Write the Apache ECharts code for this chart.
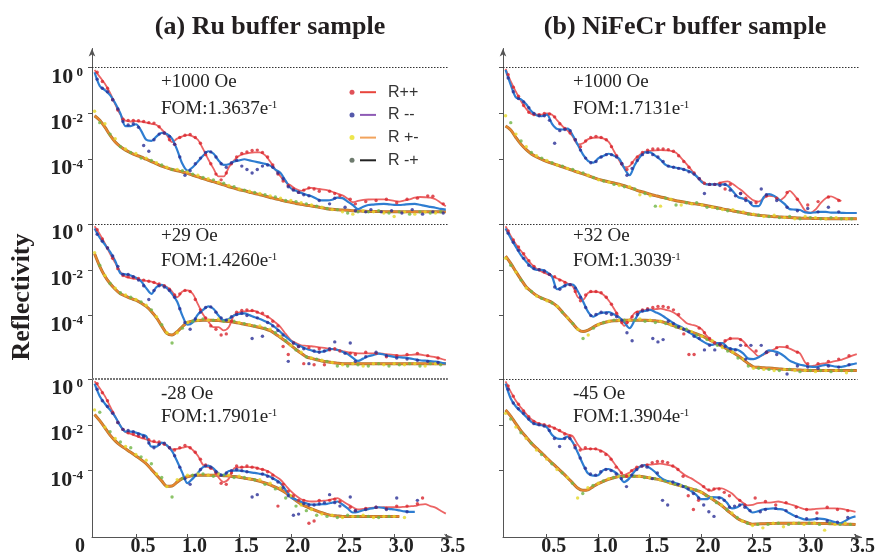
<!DOCTYPE html>
<html><head><meta charset="utf-8">
<script src="https://cdn.jsdelivr.net/npm/echarts@6.0.0/dist/echarts.min.js"></script>
<style>html,body{margin:0;padding:0;background:#fff}#c{width:878px;height:558px}</style>
</head><body><div id="c"></div>
<script>
// ---------- sampling positions (Q) ----------
const Q_FIT = [
0.10,0.15,0.20,0.25,0.30,0.35,0.40,0.45,0.50,0.55,
0.60,0.65,0.70,0.75,0.80,0.85,0.90,0.95,1.00,1.05,
1.10,1.15,1.20,1.25,1.30,1.35,1.40,1.45,1.50,1.55,
1.60,1.65,1.70,1.75,1.80,1.85,1.90,1.95,2.00,2.05,
2.10,2.15,2.20,2.25,2.30,2.35,2.40,2.45,2.50,2.55,
2.60,2.65,2.70,2.75,2.80,2.85,2.90,2.95,3.00,3.05,
3.10,3.15,3.20,3.25,3.30,3.35,3.40,3.45,3.50];
const Q_PTS = [
0.125,0.175,0.225,0.275,0.325,0.375,0.425,0.475,0.525,0.575,
0.625,0.675,0.725,0.775,0.825,0.875,0.925,0.975,1.025,1.075,
1.125,1.175,1.225,1.275,1.325,1.375,1.425,1.475,1.525,1.575,
1.625,1.675,1.725,1.775,1.825,1.875,1.925,1.975,2.025,2.075,
2.125,2.175,2.225,2.275,2.325,2.375,2.425,2.475,2.525,2.575,
2.625,2.675,2.725,2.775,2.825,2.875,2.925,2.975,3.025,3.075,
3.125,3.175,3.225,3.275,3.325,3.375,3.425,3.475];
const Q_YEL = [0.1,0.2,0.3,0.4,0.5,0.6,0.7,0.8,0.9,1.0,1.1,1.2,1.3,1.4,1.5,1.6,1.7,1.8,1.9,2.0,2.1,2.2,2.3,2.4,2.5,2.6,2.7,2.8,2.9,3.0,3.1,3.2,3.3,3.4];
const Q_GRN = [0.15,0.25,0.35,0.45,0.55,0.65,0.75,0.85,0.95,1.05,1.15,1.25,1.35,1.45,1.55,1.65,1.75,1.85,1.95,2.05,2.15,2.25,2.35,2.45,2.55,2.65,2.75,2.85,2.95,3.05,3.15,3.25,3.35,3.45];

// ---------- values are log10(Reflectivity) ----------
// (a) Ru buffer, +1000 Oe
const A1_PP_FIT = [
-0.1,-0.4,-0.7,-1.1,-1.6,-2.05,-2.32,-2.35,-2.33,-2.36,
-2.4,-2.45,-2.5,-2.7,-2.95,-3.25,-3.1,-3.0,-2.95,-3.0,
-3.15,-3.55,-4.0,-4.4,-4.75,-4.75,-4.35,-4.05,-3.85,-3.77,
-3.72,-3.7,-3.7,-3.82,-4.1,-4.45,-4.75,-5.0,-5.15,-5.3,
-5.38,-5.3,-5.25,-5.28,-5.32,-5.35,-5.42,-5.5,-5.58,-5.72,
-5.88,-5.82,-5.78,-5.76,-5.75,-5.75,-5.75,-5.78,-5.82,-5.85,
-5.8,-5.75,-5.68,-5.65,-5.66,-5.68,-5.75,-5.9,-6.05];
const A1_MM_FIT = [
-0.2,-0.8,-0.98,-1.2,-1.55,-2.0,-2.55,-2.55,-2.47,-2.75,
-3.15,-3.2,-3.0,-2.85,-2.9,-3.1,-3.6,-4.2,-4.5,-4.35,
-4.1,-3.85,-3.65,-3.75,-4.05,-4.25,-4.22,-4.1,-4.05,-4.0,
-4.05,-4.1,-4.15,-4.2,-4.28,-4.45,-4.6,-4.95,-5.27,-5.38,
-5.47,-5.55,-5.62,-5.73,-5.8,-5.8,-5.77,-5.68,-5.7,-5.85,
-6.0,-6.18,-6.08,-6.0,-5.98,-5.96,-5.95,-5.97,-5.99,-6.0,
-5.98,-5.96,-5.95,-5.99,-6.04,-6.08,-6.12,-6.17,-6.2];
const A1_SF_FIT = [
-2.1,-2.3,-2.6,-2.95,-3.25,-3.45,-3.6,-3.72,-3.82,-3.9,
-4.0,-4.1,-4.2,-4.3,-4.38,-4.45,-4.5,-4.56,-4.62,-4.7,
-4.77,-4.85,-4.92,-4.98,-5.05,-5.12,-5.2,-5.26,-5.33,-5.38,
-5.44,-5.5,-5.55,-5.61,-5.67,-5.73,-5.78,-5.84,-5.88,-5.93,
-5.97,-6.01,-6.04,-6.08,-6.12,-6.16,-6.19,-6.21,-6.22,-6.23,
-6.25,-6.26,-6.27,-6.28,-6.28,-6.28,-6.29,-6.29,-6.29,-6.3,
-6.3,-6.3,-6.3,-6.3,-6.3,-6.3,-6.3,-6.3,-6.3];
const A1_PP_PTS = [
-0.2,-0.6,-0.9,-1.4,-1.85,-2.25,-2.3,-2.3,-2.32,-2.35,
-2.4,-2.42,-2.58,-2.85,-3.15,-3.35,-3.05,-2.95,-2.92,-3.05,
-3.3,-3.8,-4.2,-4.65,-4.9,-4.6,-4.2,-3.9,-3.75,-3.68,
-3.62,-3.6,-3.7,-3.9,-4.25,-4.65,-4.95,-5.15,-5.3,-5.45,
-5.35,-5.25,-5.3,-5.4,null,-5.4,-5.5,-5.6,null,-5.75,
-5.95,null,-5.85,null,-5.8,null,-5.75,null,-5.9,null,
-5.75,null,-5.7,null,-5.6,-5.62,null,-5.95];
const A1_MM_PTS = [
-0.5,-0.9,-1.05,-1.4,-1.8,-2.35,-2.5,-2.45,-2.6,-3.4,
-3.65,-3.15,-2.9,-2.85,-3.0,-3.35,-3.9,-4.7,-4.5,-4.2,
-3.95,-3.7,-3.68,-3.9,-4.2,-4.35,-4.15,-4.05,-4.3,-4.45,
-4.6,-4.45,-4.3,-4.25,-4.35,-4.6,-4.85,-5.2,-5.35,-5.45,
-5.55,-5.6,null,-5.8,null,-5.95,-5.7,null,-6.1,null,
-6.25,null,-6.3,-6.2,null,-6.3,null,-6.25,null,-6.35,
null,-6.2,null,-6.4,null,-6.3,null,-6.35];
const A1_PM_PTS = [-1.9,-2.45,-3.1,-3.55,-3.75,-3.95,-4.15,-4.35,-4.45,-4.55,-4.7,-4.85,-5.0,-5.15,-5.3,-5.4,-5.5,-5.6,-5.7,-5.8,-5.9,-6.0,-6.1,-6.2,-6.3,-6.4,-6.25,-6.3,-6.35,-6.5,-6.3,-6.4,-6.3,-6.35];
const A1_MP_PTS = [-2.4,-2.9,-3.45,-3.7,-3.95,-4.05,-4.25,-4.45,-4.5,-4.65,-4.8,-4.9,-5.05,-5.2,-5.35,-5.45,-5.55,-5.65,-5.8,-5.85,-5.95,-6.05,-6.15,-6.2,-6.35,-6.3,-6.3,-6.25,-6.35,-6.3,-6.4,-6.3,-6.35,-6.3];

// (a) Ru buffer, +29 Oe
const A2_PP_FIT = [
-0.1,-0.45,-0.85,-1.3,-1.7,-2.1,-2.3,-2.36,-2.4,-2.45,
-2.48,-2.52,-2.6,-2.68,-2.75,-2.95,-3.2,-2.95,-2.9,-3.05,
-3.5,-3.95,-4.25,-4.5,-4.5,-4.65,-4.5,-3.98,-3.86,-3.82,
-3.8,-3.8,-3.9,-4.0,-4.12,-4.3,-4.5,-4.8,-5.07,-5.2,
-5.3,-5.32,-5.34,-5.37,-5.4,-5.43,-5.46,-5.5,-5.55,-5.6,
-5.62,-5.65,-5.65,-5.65,-5.65,-5.65,-5.67,-5.7,-5.72,-5.75,
-5.74,-5.72,-5.7,-5.7,-5.74,-5.78,-5.82,-5.88,-5.95];
const A2_MM_FIT = [
-0.2,-0.6,-0.9,-1.22,-1.62,-2.15,-2.2,-2.25,-2.35,-2.5,
-2.8,-3.05,-2.75,-2.66,-2.8,-3.05,-3.4,-4.0,-4.4,-4.3,
-3.95,-3.75,-3.6,-3.7,-4.0,-4.2,-4.15,-4.0,-3.93,-3.9,
-3.98,-4.07,-4.15,-4.25,-4.35,-4.52,-4.72,-4.92,-5.1,-5.25,
-5.35,-5.45,-5.52,-5.58,-5.58,-5.52,-5.46,-5.5,-5.58,-5.68,
-5.85,-5.98,-5.88,-5.78,-5.72,-5.66,-5.7,-5.76,-5.8,-5.82,
-5.84,-5.87,-5.91,-5.95,-5.97,-5.99,-6.01,-6.05,-6.1];
const A2_SF_FIT = [
-1.3,-1.85,-2.28,-2.6,-2.85,-3.05,-3.15,-3.25,-3.33,-3.45,
-3.6,-3.82,-4.1,-4.45,-4.78,-4.85,-4.7,-4.48,-4.3,-4.24,
-4.21,-4.2,-4.2,-4.21,-4.22,-4.24,-4.26,-4.29,-4.33,-4.38,
-4.42,-4.47,-4.52,-4.58,-4.66,-4.8,-4.96,-5.12,-5.3,-5.48,
-5.65,-5.8,-5.87,-5.93,-5.98,-6.02,-6.05,-6.08,-6.1,-6.1,
-6.1,-6.1,-6.1,-6.1,-6.1,-6.1,-6.1,-6.1,-6.1,-6.1,
-6.1,-6.1,-6.1,-6.1,-6.1,-6.1,-6.1,-6.1,-6.1];
const A2_PP_PTS = [
-0.25,-0.65,-1.05,-1.5,-1.95,-2.25,-2.3,-2.35,-2.38,-2.45,
-2.5,-2.55,-2.62,-2.7,-2.85,-3.1,-3.05,-2.9,-2.95,-3.3,
-3.75,-4.1,-4.45,-4.6,-4.85,-4.8,-4.25,-3.85,-3.78,-3.75,
-3.78,-3.85,-3.9,-4.05,-4.25,-4.45,-5.35,-5.7,-5.2,-5.35,
-6.1,-5.4,-6.15,-5.45,-6.15,-5.5,-5.45,-5.55,null,-5.65,
-5.7,null,-5.6,null,-5.65,null,-5.8,null,-5.75,null,
-5.7,null,-5.65,null,-5.75,null,-5.85,null];
const A2_MM_PTS = [
-0.45,-0.75,-1.05,-1.4,-1.85,-2.2,-2.2,-2.3,-2.45,-2.7,
-3.3,-2.9,-2.7,-2.75,-2.9,-3.2,-3.7,-4.3,-4.6,-4.15,
-3.85,-3.65,-3.62,-3.85,-4.1,-4.2,-4.05,-3.95,-3.9,-4.0,
-5.0,-4.1,-4.9,-4.3,-4.45,-4.65,-4.85,-6.0,-5.2,-5.35,
-5.45,-6.1,-5.55,-5.6,-5.55,-5.45,-5.15,null,-5.65,-5.2,
-6.0,null,-5.8,null,-5.6,null,-5.75,null,-5.85,null,
-5.9,null,-5.95,null,-6.0,null,-6.05,null];
const A2_PM_PTS = [-1.25,-2.25,-2.8,-3.1,-3.3,-3.55,-4.05,-4.75,-4.75,-4.3,-4.2,-4.2,-4.15,-4.2,-4.3,-4.4,-4.45,-4.6,-4.9,-5.3,-5.6,-5.85,-5.95,-6.05,-6.15,-6.1,-6.2,-6.1,-6.15,-6.1,-6.15,-6.1,-6.2,-6.1];
const A2_MP_PTS = [-1.8,-2.6,-3.0,-3.2,-3.4,-3.75,-4.4,-5.2,-4.55,-4.25,-4.15,-4.2,-4.25,-4.25,-4.35,-4.45,-4.55,-4.75,-5.1,-5.5,-5.8,-5.9,-6.0,-6.2,-6.2,-6.15,-6.2,-6.1,-6.2,-6.15,-6.1,-6.2,-6.1,-6.15];

// (a) Ru buffer, -28 Oe
const A3_PP_FIT = [
-0.1,-0.4,-0.75,-1.2,-1.65,-2.05,-2.32,-2.4,-2.48,-2.57,
-2.64,-2.72,-2.77,-2.8,-2.9,-3.07,-3.05,-3.0,-2.95,-3.1,
-3.35,-3.75,-3.85,-3.95,-4.3,-4.5,-4.35,-3.9,-3.86,-3.85,
-3.85,-3.86,-3.92,-3.98,-4.08,-4.25,-4.4,-4.65,-4.9,-5.1,
-5.25,-5.32,-5.35,-5.34,-5.32,-5.3,-5.25,-5.2,-5.33,-5.47,
-5.6,-5.7,-5.67,-5.64,-5.62,-5.61,-5.6,-5.6,-5.6,-5.6,
-5.58,-5.56,-5.54,-5.49,-5.46,-5.55,-5.62,-5.75,-5.88];
const A3_MM_FIT = [
-0.2,-0.75,-1.08,-1.35,-1.65,-2.05,-2.3,-2.3,-2.34,-2.42,
-2.5,-2.95,-2.95,-2.78,-2.9,-3.15,-3.6,-4.1,-4.55,-4.35,
-4.1,-3.85,-3.78,-3.9,-4.12,-4.2,-4.02,-4.0,-4.0,-4.03,
-4.07,-4.1,-4.14,-4.18,-4.27,-4.4,-4.55,-4.85,-5.17,-5.27,
-5.36,-5.43,-5.49,-5.49,-5.47,-5.45,-5.4,-5.35,-5.48,-5.65,
-5.83,-5.8,-5.73,-5.68,-5.64,-5.6,-5.63,-5.67,-5.7,-5.74,
-5.78,-5.8,-5.8,null,null,null,null,null,null];
const A3_SF_FIT = [
-1.55,-1.82,-2.13,-2.45,-2.7,-2.9,-3.05,-3.2,-3.36,-3.52,
-3.7,-3.95,-4.2,-4.45,-4.68,-4.67,-4.5,-4.34,-4.27,-4.22,
-4.2,-4.2,-4.2,-4.2,-4.2,-4.22,-4.24,-4.26,-4.29,-4.33,
-4.37,-4.41,-4.47,-4.54,-4.62,-4.72,-4.83,-4.97,-5.13,-5.31,
-5.47,-5.57,-5.67,-5.76,-5.84,-5.91,-5.96,-5.98,-6.0,-6.0,
-6.0,-6.0,-6.0,-6.0,-6.0,-6.0,-6.0,-6.0,-6.0,-6.0,
null,null,null,null,null,null,null,null,null];
const A3_PP_PTS = [
-0.2,-0.6,-0.95,-1.45,-1.9,-2.2,-2.35,-2.4,-2.5,-2.55,
-2.65,-2.72,-2.75,-2.85,-3.0,-3.1,-3.0,-2.9,-3.0,-3.2,
-3.5,-3.75,-3.9,-4.1,-4.55,-4.6,-4.1,-3.8,-3.85,-3.8,
-3.85,-3.9,-3.95,-4.05,-4.2,-5.55,-4.6,-4.9,-5.1,-5.3,
-5.3,-6.3,-6.2,-5.3,null,-5.3,-5.25,-5.35,null,-5.6,
-5.75,null,-5.65,null,-5.6,null,-5.65,null,-5.55,null,
-5.55,null,-5.45,-5.2,null,null,null,null];
const A3_MM_PTS = [
-0.45,-0.95,-1.2,-1.5,-1.9,-2.2,-2.25,-2.3,-2.4,-2.5,
-2.8,-3.0,-2.85,-2.8,-3.0,-3.35,-3.85,-4.35,-4.6,-4.2,
-3.95,-3.8,-3.85,-4.05,-4.2,-4.1,-4.0,-3.95,-4.0,-4.05,
-5.15,-5.05,-4.15,-4.25,-4.35,-4.5,-4.75,-5.1,-5.95,-5.9,
-5.45,-5.5,-5.5,-5.45,-5.4,-5.05,-5.4,-5.55,null,-5.15,
-5.75,null,-5.7,null,-5.6,null,-5.7,null,-5.2,null,
-5.8,null,-5.3,null,null,null,null,null];
const A3_PM_PTS = [-1.35,-2.1,-2.6,-2.95,-3.3,-3.55,-4.15,-4.7,-4.4,-4.2,-4.15,-4.2,-4.15,-4.2,-4.25,-4.35,-4.4,-4.55,-4.75,-5.1,-5.5,-5.7,-5.9,-5.95,-6.05,-6.0,-5.95,-6.05,-6.0,-6.0,-6.05,null,null,null];
const A3_MP_PTS = [-1.45,-2.3,-2.75,-3.0,-3.4,-3.7,-4.3,-5.15,-4.35,-4.2,-4.15,-4.25,-4.2,-4.3,-4.3,-4.4,-4.6,-4.8,-5.2,-5.55,-5.75,-5.95,-6.0,-6.05,-5.95,-6.0,-6.0,-6.05,-6.0,null,null,null,null,null];

// (b) NiFeCr buffer, +1000 Oe
const B1_PP_FIT = [
-0.05,-0.6,-1.05,-1.47,-1.8,-2.02,-2.05,-2.05,-2.0,-2.05,
-2.3,-2.55,-2.75,-3.0,-3.35,-3.3,-3.12,-3.06,-3.05,-3.1,
-3.25,-3.65,-4.05,-4.35,-4.3,-4.0,-3.8,-3.67,-3.63,-3.61,
-3.6,-3.61,-3.63,-3.72,-3.95,-4.2,-4.47,-4.75,-4.95,-5.1,
-5.1,-5.08,-5.0,-4.97,-5.08,-5.25,-5.42,-5.63,-5.8,-5.85,
-5.7,-5.6,-5.62,-5.8,-5.65,-5.38,-5.6,-5.9,-6.25,-6.35,
-6.2,-5.92,-5.7,-5.62,-5.72,-5.83,null,null,null];
const B1_MM_FIT = [
-0.1,-0.75,-1.3,-1.38,-1.6,-1.9,-2.08,-2.12,-2.05,-2.45,
-2.68,-2.7,-2.66,-2.95,-3.38,-3.8,-4.08,-4.15,-3.95,-3.85,
-3.76,-3.85,-3.98,-4.4,-4.7,-4.25,-3.9,-3.7,-3.7,-3.85,
-4.02,-4.25,-4.33,-4.37,-4.41,-4.48,-4.57,-4.75,-5.0,-5.1,
-5.1,-5.1,-5.1,-5.15,-5.4,-5.65,-5.72,-5.82,-6.05,-6.05,
-5.65,-5.52,-5.6,-5.77,-5.95,-6.18,-6.2,-6.22,-6.32,-6.34,
-6.32,-6.3,-6.3,-6.33,-6.33,-6.34,-6.35,-6.35,-6.35];
const B1_SF_FIT = [
-2.55,-2.72,-3.05,-3.35,-3.58,-3.77,-3.9,-4.01,-4.1,-4.18,
-4.26,-4.33,-4.41,-4.49,-4.57,-4.64,-4.72,-4.8,-4.88,-4.94,
-4.99,-5.04,-5.09,-5.16,-5.24,-5.32,-5.4,-5.46,-5.53,-5.59,
-5.65,-5.7,-5.76,-5.81,-5.85,-5.89,-5.93,-5.96,-5.99,-6.03,
-6.08,-6.12,-6.17,-6.21,-6.26,-6.3,-6.34,-6.38,-6.42,-6.45,
-6.47,-6.49,-6.51,-6.52,-6.53,-6.55,-6.56,-6.57,-6.58,-6.58,
-6.59,-6.59,-6.6,-6.6,-6.6,-6.6,-6.6,-6.6,-6.6];
const B1_PP_PTS = [
-0.3,-0.85,-1.25,-1.65,-1.95,-2.05,-2.05,-2.0,-2.02,-2.15,
-2.45,-2.65,-2.85,-3.15,-3.45,-3.2,-3.05,-3.0,-3.05,-3.15,
-3.45,-3.85,-4.2,-4.45,-4.15,-3.9,-3.7,-3.6,-3.55,-3.55,
-3.55,-3.58,-3.65,-3.85,-4.1,-4.35,-4.6,-4.85,-5.05,-5.1,
-5.1,-5.05,-5.3,-5.1,null,-5.5,-5.7,null,-5.9,null,
-5.6,null,-5.7,null,-5.45,null,-5.75,null,-6.0,null,
-5.85,null,-5.65,null,-5.8,null,null,null];
const B1_MM_PTS = [
-0.45,-1.05,-1.35,-1.5,-1.75,-2.0,-2.1,-2.1,-2.3,-3.3,
-2.75,-2.7,-2.75,-3.15,-3.6,-3.95,-4.15,-4.1,-3.9,-3.8,
-3.8,-3.9,-4.2,-4.7,-4.4,-4.05,-3.8,-3.7,-3.8,-3.9,
-4.1,-4.3,-4.35,-4.4,-4.45,-4.55,-4.65,-4.85,-5.5,-5.1,
-5.1,-5.15,-5.1,-5.35,-5.6,-5.5,-5.8,-5.9,null,-5.3,
-5.55,null,-5.8,null,-6.1,null,-6.25,null,-6.15,null,
-6.3,null,-6.1,null,-6.3,null,null,null];
const B1_PM_PTS = [-2.1,-2.9,-3.45,-3.85,-4.05,-4.25,-4.4,-4.55,-4.7,-4.9,-5.0,-5.15,-5.2,-5.55,-5.6,-6.05,-5.75,-6.0,-5.95,-6.0,-6.1,-6.2,-6.2,-6.3,-6.4,-6.5,-6.45,-6.55,-6.6,-6.5,-6.55,-6.6,-6.55,-6.6];
const B1_MP_PTS = [-2.4,-3.2,-3.7,-3.95,-4.15,-4.3,-4.45,-4.6,-4.8,-4.95,-5.1,-5.2,-5.3,-5.5,-6.05,-5.7,-6.0,-5.9,-5.9,-6.1,-6.15,-6.25,-6.3,-6.4,-6.45,-6.5,-6.55,-6.5,-6.6,-6.55,-6.6,-6.55,-6.6,-6.6];

// (b) NiFeCr buffer, +32 Oe
const B2_PP_FIT = [
-0.1,-0.52,-0.88,-1.18,-1.47,-1.75,-1.95,-2.08,-2.18,-2.28,
-2.38,-2.48,-2.6,-2.72,-3.2,-3.3,-3.0,-2.96,-2.98,-3.1,
-3.35,-3.7,-4.1,-4.45,-4.2,-3.88,-3.8,-3.76,-3.74,-3.72,
-3.7,-3.75,-3.81,-3.93,-4.12,-4.32,-4.4,-4.46,-4.6,-4.9,
-5.12,-5.25,-5.22,-5.05,-5.0,-5.0,-5.12,-5.38,-5.58,-5.78,
-5.7,-5.58,-5.47,-5.37,-5.38,-5.44,-5.55,-5.65,-6.05,-6.22,
-6.17,-6.11,-6.08,-6.03,-5.98,-5.93,-5.85,-5.76,-5.68];
const B2_MM_FIT = [
-0.2,-0.62,-1.0,-1.37,-1.65,-1.88,-2.0,-2.0,-2.1,-2.3,
-2.85,-2.75,-2.64,-2.65,-2.95,-3.38,-3.85,-4.05,-3.92,-3.87,
-3.85,-3.95,-4.08,-4.3,-4.55,-4.2,-3.85,-3.8,-3.75,-3.85,
-3.95,-4.1,-4.25,-4.4,-4.5,-4.67,-4.8,-4.95,-5.1,-5.23,
-5.28,-5.2,-5.2,-5.4,-5.47,-5.5,-5.65,-5.88,-5.9,-5.82,
-5.67,-5.52,-5.56,-5.63,-5.78,-5.97,-6.07,-6.15,-6.19,-6.23,
-6.24,-6.2,-6.15,-6.19,-6.23,-6.24,-6.19,-6.13,-6.08];
const B2_SF_FIT = [
-1.4,-1.72,-2.08,-2.43,-2.75,-2.95,-3.12,-3.24,-3.33,-3.43,
-3.6,-3.85,-4.1,-4.35,-4.6,-4.7,-4.63,-4.5,-4.38,-4.31,
-4.26,-4.23,-4.21,-4.2,-4.2,-4.2,-4.2,-4.2,-4.21,-4.23,
-4.26,-4.32,-4.4,-4.48,-4.56,-4.64,-4.72,-4.8,-4.89,-5.0,
-5.12,-5.24,-5.35,-5.48,-5.61,-5.75,-5.92,-6.1,-6.24,-6.26,
-6.28,-6.29,-6.31,-6.33,-6.35,-6.36,-6.37,-6.38,-6.39,-6.4,
-6.4,-6.4,-6.4,-6.4,-6.4,-6.4,-6.4,-6.4,-6.4];
const B2_PP_PTS = [
-0.3,-0.7,-1.0,-1.3,-1.6,-1.85,-2.0,-2.1,-2.2,-2.3,
-2.45,-2.55,-2.65,-2.95,-3.35,-3.1,-2.95,-2.95,-3.0,-3.2,
-3.5,-3.9,-4.3,-4.3,-4.05,-3.85,-3.75,-3.7,-3.65,-3.6,
-3.6,-3.65,-3.75,-3.95,-4.8,-5.7,-5.7,-4.55,-4.75,-5.0,
-5.2,-5.25,-5.1,-5.0,null,-5.05,-5.3,null,-5.55,null,
-5.6,null,-5.4,null,-5.35,null,-5.6,null,-6.1,null,
-6.1,null,-6.0,null,-5.9,null,-5.75,null];
const B2_MM_PTS = [
-0.4,-0.8,-1.15,-1.5,-1.8,-1.95,-2.0,-2.05,-2.2,-2.75,
-2.85,-2.7,-2.65,-2.8,-3.2,-3.65,-4.0,-3.95,-3.85,-3.9,
-3.95,-4.05,-4.2,-4.75,-5.1,-3.95,-3.8,-3.75,-5.0,-5.15,
-5.05,-4.25,-4.35,-4.5,-4.6,-4.7,-4.9,-5.0,-5.5,-5.3,
-5.5,-5.25,-5.35,-5.45,-5.5,-5.3,-5.9,-5.3,null,-5.3,
-5.6,null,-5.7,null,-6.55,null,-6.2,null,-6.25,null,
-6.3,null,-6.2,null,-6.25,null,-6.15,null];
const B2_PM_PTS = [-1.5,-2.1,-2.8,-3.15,-3.35,-3.6,-4.1,-4.6,-4.85,-4.4,-4.25,-4.2,-4.2,-4.15,-4.2,-4.25,-4.4,-4.55,-4.7,-4.9,-5.1,-5.4,-5.6,-5.9,-6.3,-6.35,-6.4,-6.35,-6.4,-6.4,-6.45,-6.4,-6.4,-6.5];
const B2_MP_PTS = [-1.8,-2.45,-2.95,-3.25,-3.45,-3.85,-4.35,-5.0,-4.55,-4.3,-4.2,-4.2,-4.2,-4.25,-4.3,-4.35,-4.5,-4.6,-4.85,-5.05,-5.3,-5.55,-5.85,-6.2,-6.3,-6.35,-6.4,-6.35,-6.45,-6.4,-6.4,-6.45,-6.4,-6.4];

// (b) NiFeCr buffer, -45 Oe
const B3_PP_FIT = [
-0.1,-0.55,-0.95,-1.25,-1.52,-1.76,-1.9,-1.98,-2.04,-2.09,
-2.2,-2.32,-2.42,-2.49,-2.85,-3.08,-3.05,-3.05,-3.08,-3.18,
-3.35,-3.65,-3.95,-4.2,-4.1,-3.93,-3.83,-3.77,-3.74,-3.72,
-3.7,-3.73,-3.77,-3.86,-4.05,-4.22,-4.33,-4.47,-4.62,-4.8,
-4.88,-4.78,-4.78,-4.87,-5.0,-5.22,-5.38,-5.52,-5.5,-5.42,
-5.4,-5.4,-5.38,-5.35,-5.4,-5.45,-5.52,-5.6,-5.68,-5.7,
-5.68,-5.66,-5.65,-5.65,-5.65,-5.66,-5.7,-5.75,-5.8];
const B3_MM_FIT = [
-0.2,-0.85,-1.2,-1.42,-1.65,-1.87,-1.98,-2.02,-2.1,-2.43,
-2.6,-2.62,-2.52,-2.75,-3.2,-3.7,-4.12,-4.22,-4.2,-3.98,
-3.93,-4.03,-4.2,-4.5,-4.35,-4.05,-3.85,-3.76,-3.88,-4.05,
-4.28,-4.42,-4.48,-4.54,-4.62,-4.75,-4.88,-5.05,-5.25,-5.25,
-5.16,-5.17,-5.2,-5.4,-5.65,-5.6,-5.47,-5.65,-5.83,-5.78,
-5.7,-5.67,-5.65,-5.68,-5.71,-5.84,-5.96,-6.05,-6.13,-6.14,
-6.12,-6.1,-6.12,-6.18,-6.25,-6.3,-6.2,-6.07,-6.0];
const B3_SF_FIT = [
-1.35,-1.62,-1.95,-2.27,-2.53,-2.8,-3.02,-3.22,-3.45,-3.66,
-3.87,-4.08,-4.3,-4.53,-4.76,-4.86,-4.84,-4.7,-4.57,-4.47,
-4.38,-4.31,-4.26,-4.25,-4.25,-4.25,-4.25,-4.28,-4.32,-4.36,
-4.4,-4.46,-4.53,-4.6,-4.66,-4.72,-4.79,-4.86,-4.94,-5.08,
-5.22,-5.37,-5.53,-5.72,-5.9,-6.08,-6.2,-6.28,-6.34,-6.33,
-6.32,-6.31,-6.31,-6.3,-6.3,-6.3,-6.3,-6.3,-6.3,-6.3,
-6.3,-6.31,-6.31,-6.32,-6.32,-6.33,-6.34,-6.34,-6.35];
const B3_PP_PTS = [
-0.3,-0.75,-1.1,-1.4,-1.65,-1.85,-1.95,-2.0,-2.05,-2.15,
-2.25,-2.4,-2.5,-2.9,-3.1,-3.0,-3.05,-3.05,-3.15,-3.3,
-3.5,-3.85,-4.1,-4.25,-4.0,-3.85,-3.8,-3.75,-3.65,-3.6,
-3.6,-3.65,-3.8,-3.95,-4.25,-5.1,-5.7,-5.3,-4.7,-4.85,
-4.8,-4.8,-4.95,-5.1,null,-5.3,-5.5,null,-5.2,null,
-5.35,null,-5.5,null,-5.4,null,-5.6,null,-5.7,null,
-5.85,null,-5.6,null,-5.7,null,-5.75,null];
const B3_MM_PTS = [
-0.45,-1.05,-1.3,-1.5,-1.75,-1.95,-2.0,-2.05,-2.25,-2.6,
-2.95,-2.6,-2.6,-3.0,-3.45,-3.9,-4.15,-4.2,-4.05,-3.95,
-4.0,-4.15,-4.35,-4.7,-4.2,-3.95,-3.8,-3.85,-4.35,-4.1,
-5.3,-5.5,-4.5,-4.6,-4.7,-4.8,-5.0,-5.2,-5.5,-5.8,
-6.0,-5.2,-5.3,-5.6,-5.55,-5.5,-5.6,-5.75,null,-5.8,
-5.7,null,-5.65,null,-5.75,null,-6.0,null,-6.1,null,
-6.1,null,-6.2,null,-6.25,null,-6.05,null];
const B3_PM_PTS = [-1.5,-2.1,-2.6,-3.1,-3.5,-3.95,-4.3,-5.2,-4.75,-4.55,-4.35,-4.25,-4.2,-4.25,-4.3,-4.4,-4.55,-4.65,-4.8,-4.95,-5.2,-5.5,-5.85,-6.2,-6.4,-6.5,-6.3,-6.45,-6.3,-6.35,-6.3,-6.6,-6.35,-6.3];
const B3_MP_PTS = [-1.75,-2.35,-2.8,-3.3,-3.7,-4.1,-4.55,-5.0,-4.65,-4.45,-4.3,-4.25,-4.25,-4.3,-4.35,-4.45,-4.6,-4.7,-4.85,-5.1,-5.4,-5.7,-6.05,-6.3,-6.35,-6.35,-6.3,-6.35,-6.3,-6.3,-6.35,-6.3,-6.35,-6.35];

// ---------- texts ----------
const PANEL_TITLES = ['(a) Ru buffer sample', '(b) NiFeCr buffer sample'];
const FIELD_LABELS = ['+1000 Oe', '+1000 Oe', '+29 Oe', '+32 Oe', '-28 Oe', '-45 Oe'];
const FOM_MAIN = ['FOM:1.3637e', 'FOM:1.7131e', 'FOM:1.4260e', 'FOM:1.3039', 'FOM:1.7901e', 'FOM:1.3904e'];
const FOM_EXP = ['-1', '-1', '-1', '-1', '-1', '-1'];
const LEGEND_NAMES = ['R++', 'R --', 'R +-', 'R -+'];
const X_TICKS = [0.5, 1.0, 1.5, 2.0, 2.5, 3.0, 3.5];
const Y_TICKS = [0, -2, -4];
const Y_TITLE = 'Reflectivity';

// ---------- layout & style ----------
const PANELS = [
  {pp:A1_PP_FIT, mm:A1_MM_FIT, sf:A1_SF_FIT, ppP:A1_PP_PTS, mmP:A1_MM_PTS, pmP:A1_PM_PTS, mpP:A1_MP_PTS},
  {pp:B1_PP_FIT, mm:B1_MM_FIT, sf:B1_SF_FIT, ppP:B1_PP_PTS, mmP:B1_MM_PTS, pmP:B1_PM_PTS, mpP:B1_MP_PTS},
  {pp:A2_PP_FIT, mm:A2_MM_FIT, sf:A2_SF_FIT, ppP:A2_PP_PTS, mmP:A2_MM_PTS, pmP:A2_PM_PTS, mpP:A2_MP_PTS},
  {pp:B2_PP_FIT, mm:B2_MM_FIT, sf:B2_SF_FIT, ppP:B2_PP_PTS, mmP:B2_MM_PTS, pmP:B2_PM_PTS, mpP:B2_MP_PTS},
  {pp:A3_PP_FIT, mm:A3_MM_FIT, sf:A3_SF_FIT, ppP:A3_PP_PTS, mmP:A3_MM_PTS, pmP:A3_PM_PTS, mpP:A3_MP_PTS},
  {pp:B3_PP_FIT, mm:B3_MM_FIT, sf:B3_SF_FIT, ppP:B3_PP_PTS, mmP:B3_MM_PTS, pmP:B3_PM_PTS, mpP:B3_MP_PTS}
];
const SERIF = "'Liberation Serif','Times New Roman',serif";
const SANS = "'Liberation Sans',Arial,sans-serif";
const COL = {ppLine:'#ec6464', mmLine:'#2e7dd1', pmLine:'#ea8630', mpLine:'#a8742c',
             ppDot:'#d8262e', mmDot:'#2a2f96', pmDot:'#e4d828', mpDot:'#6fb544'};
const LEGEND_LINE_COLORS = ['#e8453c', '#8e5bb5', '#f2a35c', '#222222'];
const LEGEND_DOT_COLORS = ['#d8262e', '#2a2f96', '#e8e020', '#4a5a4a'];
const ROWS = [
  {top:48.5, height:175.5, min:-6.83, max:0.84, t1:81.8, t2:108.8},
  {top:224, height:155, min:-6.77, max:0, t1:236.5, t2:260.7},
  {top:379, height:158, min:-6.9, max:0, t1:393.8, t2:417.2}
];
const COLS = [{left:92, text:161}, {left:503, text:573}];
const X_MIN = 0.075, X_MAX = 3.56, PLOT_W = 360;

const pair = (xs, ys) => xs.map((x, k) => [x, ys[k]]);

const grid = [], xAxis = [], yAxis = [], series = [], graphic = [];
PANELS.forEach((p, i) => {
  const r = Math.floor(i / 2), c = i % 2, R = ROWS[r];
  grid.push({left: COLS[c].left, top: R.top, width: PLOT_W, height: R.height});
  const bottom = r === 2;
  xAxis.push({
    gridIndex: i, type: 'value', min: X_MIN, max: X_MAX, show: bottom,
    axisLine: {show: true, onZero: false, lineStyle: {color: '#555', width: 1}, symbol: ['none', 'arrow'], symbolSize: [5, 8]},
    axisTick: {show: true, inside: true, length: 3, customValues: X_TICKS, lineStyle: {color: '#555'}},
    axisLabel: {show: true, customValues: X_TICKS, formatter: v => v.toFixed(1), fontFamily: SERIF, fontWeight: 'bold',
      fontSize: 20, color: '#222', margin: 0, padding: [0, 0, 0, 14]},
    splitLine: {show: false}
  });
  yAxis.push({
    gridIndex: i, type: 'value', min: R.min, max: R.max,
    axisLine: {show: true, onZero: false, lineStyle: {color: '#555', width: 1},
      symbol: r === 0 ? ['none', 'arrow'] : 'none', symbolSize: [5, 8]},
    axisTick: {show: true, length: 4, customValues: Y_TICKS, lineStyle: {color: '#555'}},
    axisLabel: {show: c === 0, customValues: Y_TICKS, margin: 9, padding: [19, 0, 0, 0],
      formatter: v => v === 0 ? '{b|10}{s| 0}' : '{b|10}{s|' + v + '}',
      rich: {
        b: {fontFamily: SERIF, fontWeight: 'bold', fontSize: 22, lineHeight: 22, color: '#222'},
        s: {fontFamily: SERIF, fontWeight: 'bold', fontSize: 13, lineHeight: 13, verticalAlign: 'top', color: '#222'}
      }},
    splitLine: {show: false}
  });
  const common = {xAxisIndex: i, yAxisIndex: i, animation: false, emphasis: {disabled: true}};
  series.push(Object.assign({
    type: 'line', name: 'R -+', data: pair(Q_FIT, p.sf), symbol: 'none', smooth: 0.3, clip: false,
    lineStyle: {color: COL.mpLine, width: 3}, itemStyle: {color: COL.mpLine}, z: 2,
    markLine: {silent: true, symbol: ['none', 'none'], label: {show: false}, animation: false,
      lineStyle: i === 4 ? {color: '#777', width: 2, type: [2, 1]} : {color: '#333', width: 1, type: [1.5, 1.5]},
      data: [[{coord: [X_MIN, 0]}, {coord: [3.52, 0]}]]}
  }, common));
  series.push(Object.assign({type: 'line', name: 'R +-', data: pair(Q_FIT, p.sf), symbol: 'none', smooth: 0.3,
    lineStyle: {color: COL.pmLine, width: 1.8}, itemStyle: {color: COL.pmLine}, z: 3}, common));
  series.push(Object.assign({type: 'line', name: 'R++', data: pair(Q_FIT, p.pp), symbol: 'none', smooth: 0.3,
    lineStyle: {color: COL.ppLine, width: 1.8}, itemStyle: {color: COL.ppLine}, z: 3}, common));
  series.push(Object.assign({type: 'line', name: 'R --', data: pair(Q_FIT, p.mm), symbol: 'none', smooth: 0.3,
    lineStyle: {color: COL.mmLine, width: 2.2}, itemStyle: {color: COL.mmLine}, z: 4}, common));
  series.push(Object.assign({type: 'scatter', name: 'R +- pts', data: pair(Q_YEL, p.pmP), symbolSize: 3.4,
    itemStyle: {color: COL.pmDot}, z: 5}, common));
  series.push(Object.assign({type: 'scatter', name: 'R -+ pts', data: pair(Q_GRN, p.mpP), symbolSize: 3.4,
    itemStyle: {color: COL.mpDot}, z: 5}, common));
  series.push(Object.assign({type: 'scatter', name: 'R++ pts', data: pair(Q_PTS, p.ppP), symbolSize: 3.4,
    itemStyle: {color: COL.ppDot}, z: 6}, common));
  series.push(Object.assign({type: 'scatter', name: 'R -- pts', data: pair(Q_PTS, p.mmP), symbolSize: 3.4,
    itemStyle: {color: COL.mmDot}, z: 6}, common));

  // field / FOM annotations
  graphic.push({type: 'text', x: COLS[c].text, y: R.t1, silent: true,
    style: {text: FIELD_LABELS[i], font: '19px ' + SERIF, fill: '#222', align: 'left', textAlign: 'left', verticalAlign: 'middle', textVerticalAlign: 'middle'}});
  graphic.push({type: 'text', x: COLS[c].text, y: R.t2, silent: true,
    style: {text: '{m|' + FOM_MAIN[i] + '}{s|' + FOM_EXP[i] + '}', align: 'left', textAlign: 'left', verticalAlign: 'middle', textVerticalAlign: 'middle',
      rich: {m: {fontSize: 19, fontFamily: SERIF, fill: '#222', lineHeight: 19},
             s: {fontSize: 11, fontFamily: SERIF, fill: '#222', lineHeight: 11, verticalAlign: 'top'}}}});
});

graphic.push({type: 'text', x: 270, y: 27, silent: true,
  style: {text: PANEL_TITLES[0], font: 'bold 26px ' + SERIF, fill: '#231f20', align: 'center', textAlign: 'center', verticalAlign: 'middle', textVerticalAlign: 'middle'}});
graphic.push({type: 'text', x: 685, y: 27, silent: true,
  style: {text: PANEL_TITLES[1], font: 'bold 26px ' + SERIF, fill: '#231f20', align: 'center', textAlign: 'center', verticalAlign: 'middle', textVerticalAlign: 'middle'}});
graphic.push({type: 'text', x: 22.5, y: 297, rotation: Math.PI / 2, silent: true,
  style: {text: Y_TITLE, font: 'bold 26px ' + SERIF, fill: '#231f20', align: 'center', textAlign: 'center', verticalAlign: 'middle', textVerticalAlign: 'middle'}});
graphic.push({type: 'text', x: 80, y: 547, silent: true,
  style: {text: '0', font: 'bold 20px ' + SERIF, fill: '#222', align: 'center', textAlign: 'center', verticalAlign: 'middle', textVerticalAlign: 'middle'}});

const chart = echarts.init(document.getElementById('c'), null, {renderer: 'canvas'});
chart.setOption({
  animation: false,
  backgroundColor: '#fff',
  textStyle: {fontFamily: SERIF},
  grid, xAxis, yAxis, series, graphic,
  legend: [
    {data: LEGEND_NAMES.map((n, k) => ({name: n, itemStyle: {color: LEGEND_LINE_COLORS[k]}})),
     orient: 'vertical', left: 360, top: 84.2, padding: 0, itemGap: 6.7, itemWidth: 16, itemHeight: 2, icon: 'rect',
     selectedMode: false,
     textStyle: {fontFamily: SANS, fontSize: 16, lineHeight: 15, color: '#333', padding: [0, 0, 0, 7]}},
    {data: LEGEND_NAMES.map((n, k) => ({name: n + ' pts', itemStyle: {color: LEGEND_DOT_COLORS[k]}})),
     orient: 'vertical', left: 349.5, top: 84.2, padding: 0, itemGap: 6.7, itemWidth: 5, itemHeight: 5, icon: 'circle',
     selectedMode: false, formatter: () => ' ',
     textStyle: {fontFamily: SANS, fontSize: 16, lineHeight: 15}}
  ]
});
</script>
</body></html>
